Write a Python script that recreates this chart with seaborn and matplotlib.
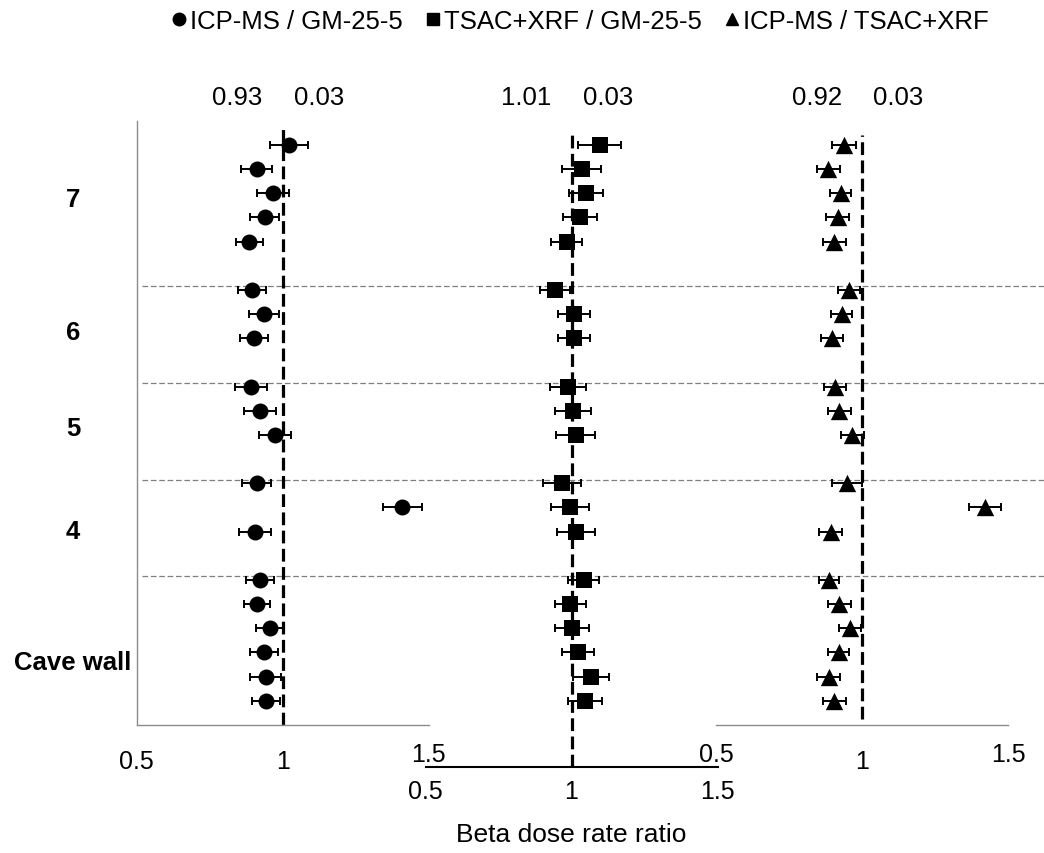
import matplotlib
matplotlib.use("Agg")
import matplotlib.pyplot as plt
import matplotlib.transforms as mtransforms
from matplotlib.lines import Line2D
import seaborn as sns

# ---- data -------------------------------------------------------------
groups = ["7", "6", "5", "4", "Cave wall"]
group_sizes = [5, 3, 3, 3, 6]

series_names = ["ICP-MS / GM-25-5", "TSAC+XRF / GM-25-5", "ICP-MS / TSAC+XRF"]

icp_gm = [1.022, 0.911, 0.966, 0.938, 0.885,
          0.896, 0.936, 0.903,
          0.892, 0.923, 0.975,
          0.911, 1.410, 0.905,
          0.923, 0.911, 0.957, 0.936, 0.942, 0.942]
icp_gm_err = [0.065, 0.054, 0.055, 0.051, 0.046,
              0.048, 0.052, 0.048,
              0.054, 0.054, 0.055,
              0.049, 0.066, 0.054,
              0.048, 0.045, 0.047, 0.048, 0.053, 0.048]

tsac_gm = [1.096, 1.035, 1.050, 1.029, 0.983,
           0.943, 1.010, 1.010,
           0.987, 1.005, 1.014,
           0.967, 0.995, 1.017,
           1.042, 0.995, 1.002, 1.022, 1.067, 1.046]
tsac_gm_err = [0.075, 0.066, 0.059, 0.057, 0.054,
               0.052, 0.055, 0.055,
               0.062, 0.062, 0.066,
               0.065, 0.066, 0.065,
               0.053, 0.053, 0.057, 0.056, 0.062, 0.057]

icp_tsac = [0.938, 0.885, 0.927, 0.917, 0.905,
            0.955, 0.930, 0.896,
            0.908, 0.922, 0.967,
            0.949, 1.421, 0.893,
            0.887, 0.922, 0.958, 0.920, 0.886, 0.905]
icp_tsac_err = [0.042, 0.039, 0.037, 0.039, 0.040,
                0.037, 0.035, 0.038,
                0.038, 0.039, 0.040,
                0.052, 0.056, 0.039,
                0.035, 0.039, 0.038, 0.035, 0.040, 0.039]

series_means = ["0.93", "1.01", "0.92"]
series_sds = ["0.03", "0.03", "0.03"]
x_ticks = [0.5, 1, 1.5]
x_tick_labels = ["0.5", "1", "1.5"]
x_title = "Beta dose rate ratio"

# ---- row positions: groups stacked top-down with one empty row between ----
n_rows = sum(group_sizes) + len(group_sizes) - 1
positions, group_first = [], []
cur = n_rows
for n in group_sizes:
    group_first.append(cur)
    for _ in range(n):
        positions.append(cur)
        cur -= 1
    cur -= 1

# ---- style --------------------------------------------------------------
sns.set_style("white")
plt.rcParams["font.family"] = ["Liberation Sans", "DejaVu Sans"]
plt.rcParams["text.color"] = "black"
plt.rcParams["xtick.labelcolor"] = "black"
plt.rcParams["axes.labelcolor"] = "black"

W, H = 1044, 854
fig = plt.figure(figsize=(W / 100, H / 100), dpi=100)

ROW = 24.17          # pixels per row
Y0 = 726.0           # pixel row of index 0
TOP = Y0 - 25 * ROW


def rect(x0, x1, ytop, ybot):
    return [x0 / W, 1 - ybot / H, (x1 - x0) / W, (ybot - ytop) / H]


ax_l = fig.add_axes(rect(136.7, 428.7, TOP, Y0))
ax_m = fig.add_axes(rect(425.5, 717.5, TOP, 768.0))
ax_r = fig.add_axes(rect(716.0, 1008.0, TOP, Y0))
axes = [ax_l, ax_m, ax_r]

ax_l.set_ylim(0, 25)
ax_r.set_ylim(0, 25)
ax_m.set_ylim(-(768.0 - Y0) / ROW, 25)

grey = "#8c8c8c"
values = [icp_gm, tsac_gm, icp_tsac]
errors = [icp_gm_err, tsac_gm_err, icp_tsac_err]
markers = ["o", "s", "^"]
msizes = [11.5, 11.5, 12.5]
vline_spans = [(0.0, 24.8), (ax_m.get_ylim()[0], 24.5), (0.25, 24.4)]

for i, ax in enumerate(axes):
    ax.patch.set_visible(False)
    ax.set_xlim(0.5, 1.5)
    ax.set_yticks([])
    ax.set_xticks(x_ticks)
    ax.set_xticklabels(x_tick_labels)
    for s in ["top", "right"]:
        ax.spines[s].set_visible(False)

    # reference line at ratio = 1
    lo, hi = vline_spans[i]
    ax.vlines(1.0, lo, hi, colors="black", linewidth=2.3,
              linestyles=(0, (4.0, 1.7)), zorder=1)

    # error bars and markers
    ax.errorbar(values[i], positions, xerr=errors[i], fmt="none",
                ecolor="black", elinewidth=1.4, capsize=3.2, capthick=1.4,
                zorder=2)
    sns.scatterplot(x=values[i], y=positions, marker=markers[i],
                    s=msizes[i] ** 2, color="black", linewidth=0,
                    legend=False, ax=ax, zorder=3)

    # mean / sd annotations
    ax.text(0.845, 26.0, series_means[i], fontsize=18.5, ha="center",
            va="center", clip_on=False)
    ax.text(1.125, 26.0, series_sds[i], fontsize=18.5, ha="center",
            va="center", clip_on=False)
    ax.set_xlabel("")
    ax.set_ylabel("")

# outer panels: grey axis lines and small outward ticks
for ax in (ax_l, ax_r):
    ax.spines["bottom"].set_color(grey)
    ax.spines["bottom"].set_linewidth(1.0)
    ax.tick_params(axis="x", direction="out", length=4, width=1,
                   color=grey, labelsize=18, pad=13.5)
ax_l.spines["left"].set_color(grey)
ax_l.spines["left"].set_linewidth(1.0)
ax_r.spines["left"].set_visible(False)

# some outer-panel labels sit a little higher than the others
lift = mtransforms.ScaledTranslation(0, 7 / 100, fig.dpi_scale_trans)
for ax, idx in ((ax_l, 2), (ax_r, 0), (ax_r, 2)):
    lbl = ax.xaxis.get_major_ticks()[idx].label1
    lbl.set_transform(lbl.get_transform() + lift)

# middle panel: black axis line lower down, no ticks
ax_m.spines["left"].set_visible(False)
ax_m.spines["bottom"].set_color("black")
ax_m.spines["bottom"].set_linewidth(1.5)
ax_m.tick_params(axis="x", length=0, labelsize=18, pad=9)
ax_m.set_xlabel(x_title, fontsize=19, labelpad=13)

# dashed separators between depth groups
sep_tr = mtransforms.blended_transform_factory(ax_l.transAxes, ax_l.transData)
for first in group_first[1:]:
    y = first + 0.15
    ax_l.plot([(142 - 136.7) / 292, (1044 - 136.7) / 292], [y, y],
              transform=sep_tr, color="#7f7f7f", linewidth=0.9,
              linestyle=(0, (4.5, 2.2)), clip_on=False, zorder=0)

# group labels on the left
label_y = [21.76, 16.26, 12.29, 8.03, 2.61]
lab_tr = mtransforms.blended_transform_factory(fig.transFigure, ax_l.transData)
for name, y in zip(groups, label_y):
    ax_l.text(73 / W, y, name, transform=lab_tr, fontsize=18.5,
              fontweight="bold", ha="center", va="center", clip_on=False)

# legend
handles = [Line2D([], [], marker=m, linestyle="none", color="black",
                  markersize=9) for m in markers]
fig.legend(handles, series_names, loc="center", ncol=3, frameon=False,
           bbox_to_anchor=(580 / W, 1 - 22 / H), fontsize=18.5,
           handlelength=0.6, handletextpad=0.1, columnspacing=0.9,
           borderpad=0)

fig.savefig("out.png", dpi=100)
